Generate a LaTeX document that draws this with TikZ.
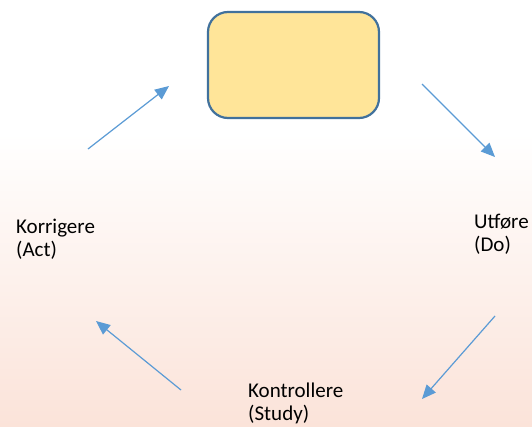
\documentclass[tikz,border=0pt]{standalone}
\usepackage{fontspec}
\setmainfont{Carlito}
\usetikzlibrary{arrows.meta}
\definecolor{boxfill}{RGB}{255,229,153}
\definecolor{boxline}{RGB}{65,113,156}
\definecolor{arrowblue}{RGB}{91,155,213}
\definecolor{pinkbg}{RGB}{251,227,217}
\tikzset{
  cyclearrow/.style={arrowblue, line width=1.2pt, -{Triangle[length=14pt,width=12pt]}},
  steplabel/.style={anchor=base west, inner sep=0pt, align=left,
    font=\fontsize{21}{23.5}\selectfont},
}
\begin{document}
\begin{tikzpicture}[x=1pt, y=-1pt]
  \useasboundingbox (0,0) rectangle (532,426);
  \fill[white] (0,0) rectangle (532,426);
  \shade[top color=white, bottom color=pinkbg] (0,133) rectangle (532,426);
  % planlegge-boksen
  \node[draw=boxline, fill=boxfill, line width=2.2pt, rounded corners=20pt,
    minimum width=171pt, minimum height=106pt] (plan) at (293.5,65) {};
  % base = siste linje
  \node[steplabel] (do) at (474,251.5) {Utføre\\(Do)};
  \node[steplabel] (study) at (248,420.5) {Kontrollere\\(Study)};
  \node[steplabel] (act) at (16,256.5) {Korrigere\\(Act)};
  \coordinate (a1s) at (88,149);  \coordinate (a1e) at (169,86);
  \coordinate (a2s) at (422,84);  \coordinate (a2e) at (495,157);
  \coordinate (a3s) at (495,316); \coordinate (a3e) at (422,399);
  \coordinate (a4s) at (181,390); \coordinate (a4e) at (96,321);
  \draw[cyclearrow] (a1s) -- (a1e);
  \draw[cyclearrow] (a2s) -- (a2e);
  \draw[cyclearrow] (a3s) -- (a3e);
  \draw[cyclearrow] (a4s) -- (a4e);
\end{tikzpicture}
\end{document}
